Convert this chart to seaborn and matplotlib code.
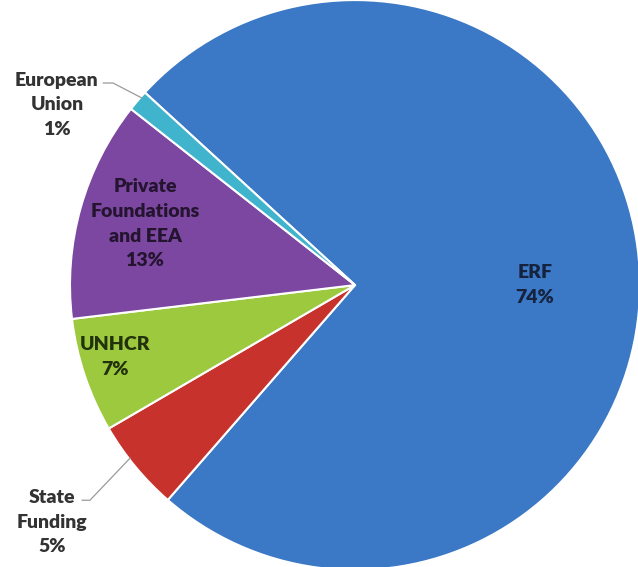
import matplotlib
matplotlib.use("Agg")
import matplotlib.pyplot as plt
import seaborn as sns

sns.set_theme(style="white")
plt.rcParams['font.family'] = ['Lato', 'DejaVu Sans']

## Data (clockwise from ERF)
sources = ["ERF", "State\nFunding", "UNHCR", "Private\nFoundations\nand EEA", "European\nUnion"]
shares = [74.6, 5.2, 6.5, 12.5, 1.2]
pct_labels = ["74%", "5%", "7%", "13%", "1%"]
colors = ["#3b78c6", "#c8322c", "#9cc93e", "#7b47a0", "#3fb4cc"]

fig = plt.figure(figsize=(6.38, 5.67), dpi=100)
ax = fig.add_axes([0, 0, 1, 1])

wedges, _ = ax.pie(shares, colors=colors, startangle=137.5, counterclock=False,
                   radius=1.0, center=(0, 0),
                   wedgeprops=dict(edgecolor="white", linewidth=1.5))

ax.set_xlim(-1.2456, 0.993)
ax.set_ylim(-0.989, 1.0)
ax.set_aspect("equal")
ax.axis("off")

txt = dict(ha="center", va="center", fontsize=14, fontweight="heavy",
           linespacing=1.55)

# labels inside slices
ax.text(0.632, 0.0, sources[0] + "\n" + pct_labels[0], color="#16233f", **txt)
ax.text(-0.737, 0.215, sources[3] + "\n" + pct_labels[3], color="#24142f", **txt)
ax.text(-0.842, -0.253, sources[2] + "\n" + pct_labels[2], color="#22320c", **txt)

# labels outside with leader lines
ax.text(-1.046, 0.632, sources[4] + "\n" + pct_labels[4], color="#333333", **txt)
ax.plot([-0.884, -0.849, -0.749], [0.709, 0.709, 0.657], color="#9a9a9a", lw=0.9)

ax.text(-1.063, -0.832, sources[1] + "\n" + pct_labels[1], color="#333333", **txt)
ax.plot([-0.958, -0.93, -0.789], [-0.755, -0.755, -0.607], color="#9a9a9a", lw=0.9)

fig.savefig("out.png", dpi=100, facecolor="white")
